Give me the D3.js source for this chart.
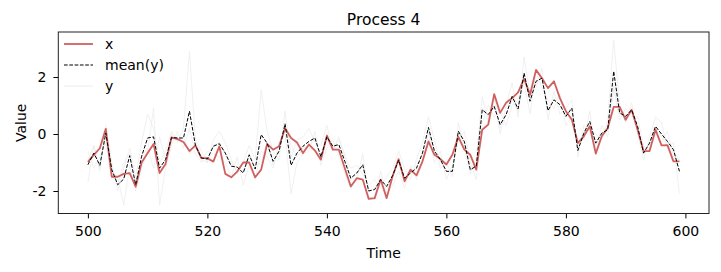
<!DOCTYPE html>
<html>
<head>
<meta charset="utf-8">
<script src="https://cdn.jsdelivr.net/npm/d3@7"></script>
<style>
  body { margin: 0; background: #fff; }
  svg { font-family: "DejaVu Sans", sans-serif; }
</style>
</head>
<body>
<div id="chart"></div>
<script>
// time steps 500..599
var time = d3.range(500, 600);

// x (red line)
var xValues = [
  -0.98, -0.73, -0.5, 0.18, -1.5, -1.5, -1.4, -1.37, -1.85, -1.0,
  -0.67, -0.35, -1.37, -1.05, -0.12, -0.18, -0.28, -0.6, -0.4, -0.85,
  -0.85, -0.97, -0.43, -1.4, -1.52, -1.32, -1.0, -1.0, -1.52, -1.25,
  -0.35, -0.55, -0.43, 0.2, -0.14, -0.3, -0.67, -0.37, -0.58, -0.9,
  -0.06, -0.55, -0.55, -1.2, -1.84, -1.55, -1.6, -2.28, -2.25, -1.6,
  -2.25, -1.48, -0.88, -1.66, -1.25, -1.45, -0.96, -0.26, -0.73, -0.88,
  -1.07, -0.73, -0.1, -0.55, -0.73, -1.25, 0.15, 0.33, 1.4, 0.74,
  1.1, 1.26, 1.46, 1.94, 1.38, 2.25, 1.96, 1.61, 1.85, 1.26,
  0.8, 0.5, -0.32, -0.08, 0.27, -0.69, -0.08, 0.21, 0.95, 0.95,
  0.5, 0.85, 0.15, -0.6, -0.6, 0.15, -0.4, -0.39, -0.96, -0.96
];

// mean(y) (black dashed)
var meanValues = [
  -1.08, -0.67, -1.1, 0.03, -1.25, -1.78, -1.58, -0.76, -1.78, -0.78,
  -0.14, -0.1, -1.2, -0.9, -0.12, -0.14, -0.14, 0.8, -0.4, -0.84,
  -0.88, -0.43, -0.34, -0.67, -1.13, -1.16, -1.37, -0.73, -1.23, -0.02,
  -0.32, -0.96, -0.6, 0.36, -1.1, -0.67, -0.43, -0.26, -0.14, -0.8,
  -0.1, -0.43, -0.37, -0.96, -1.55, -1.37, -1.08, -2.0, -1.95, -1.6,
  -1.84, -1.46, -0.92, -1.55, -1.37, -1.2, -0.67, 0.23, -0.6, -0.9,
  -1.31, -1.31, 0.1, -0.26, -1.25, -1.13, 0.85, 0.68, 0.97, 0.33,
  0.68, 1.32, 0.88, 2.14, 1.15, 1.85, 1.96, 0.82, 1.2, 1.03,
  0.62, 0.91, -0.58, 0.03, 0.44, -0.32, 0.03, 0.15, 2.2, 0.74,
  0.62, 0.85, 0.27, -0.67, -0.32, 0.27, 0.0, -0.26, -0.55, -1.31
];

// y samples (faint grey lines)
var ySample1 = [
  -1.7, -0.4, -1.3, 0.3, -1.0, -2.0, -1.2, -0.5, -1.5, -0.3,
  0.7, 0.2, -1.0, -0.6, 0.1, -0.3, 0.2, 2.9, -0.2, -0.6,
  -1.0, -0.2, 0.1, -0.3, -0.9, -1.4, -1.0, -0.4, -0.9, 1.55,
  0.1, -0.6, -0.9, 0.8, -0.8, -0.2, -0.1, 0.2, -0.3, -0.4,
  0.3, -0.6, -0.1, -0.8, -1.2, -1.1, -1.4, -1.8, -1.6, -1.9,
  -1.5, -1.2, -0.6, -1.2, -1.6, -0.9, -0.3, 0.6, -0.2, -1.2,
  -1.0, -1.5, 0.4, -0.5, -1.4, -0.8, 1.3, 0.4, 1.3, 0.0,
  1.0, 1.8, 0.6, 2.7, 1.4, 1.6, 2.3, 0.5, 1.5, 0.7,
  0.9, 1.2, -0.8, 0.3, 0.1, 0.0, -0.2, 0.5, 3.3, 1.0,
  0.4, 1.1, 0.0, -0.9, -0.1, 0.6, 0.4, -0.5, -0.3, -2.1
];
var ySample2 = [
  -0.6, -1.2, -0.8, -0.3, -1.6, -1.5, -2.5, -1.1, -2.0, -1.2,
  -0.6, 0.9, -2.5, -1.2, -0.4, 0.1, -0.5, 0.2, -0.7, -1.0,
  -0.6, -0.7, -0.8, -1.0, -1.5, -0.8, -1.8, -1.1, -1.6, -0.6,
  -0.8, -1.2, -0.3, 0.0, -2.1, -1.0, -0.7, -0.6, 0.1, -1.1,
  -0.5, -0.2, -0.8, -1.4, -1.9, -1.6, -0.7, -2.2, -2.3, -1.3,
  -2.1, -1.8, -1.3, -1.9, -1.1, -1.6, -1.0, 0.0, -1.0, -0.6,
  -1.6, -1.1, -0.2, 0.1, -1.0, -1.6, 0.4, 1.0, 0.6, 0.8,
  0.3, 1.0, 1.2, 1.8, 0.7, 2.2, 1.6, 1.2, 0.9, 1.4,
  0.3, 0.6, -0.3, -0.2, 0.8, -0.6, 0.3, -0.1, 1.6, 0.5,
  0.9, 0.6, 0.6, -0.4, -0.6, 0.0, -0.3, 0.1, -0.8, -0.9
];
var ySample3 = [
  -0.9, -0.4, -1.2, 0.1, -1.2, -1.8, -1.0, -0.7, -1.8, -0.8,
  -0.5, -1.2, -0.1, -0.9, 0.0, -0.2, -0.1, -0.7, -0.3, -0.9,
  -1.0, -0.4, -0.3, -0.7, -1.0, -1.3, -1.3, -0.7, -1.2, -1.0,
  -0.3, -1.1, -0.6, 0.3, -0.4, -0.8, -0.5, -0.4, -0.2, -0.9,
  0.0, -0.5, -0.2, -0.7, -1.6, -1.4, -1.1, -2.0, -1.9, -1.6,
  -1.9, -1.4, -0.9, -1.6, -1.4, -1.1, -0.7, 0.1, -0.6, -0.9,
  -1.3, -1.3, 0.1, -0.4, -1.3, -1.0, 0.9, 0.6, 1.0, 0.2,
  0.7, 1.2, 0.8, 1.9, 1.3, 1.8, 2.0, 0.8, 1.2, 1.0,
  0.6, 0.9, -0.6, 0.0, 0.4, -0.4, 0.0, 0.1, 1.7, 0.7,
  0.6, 0.8, 0.2, -0.7, -0.3, 0.2, -0.1, -0.4, -0.6, -0.9
];
var ySamples = [ySample1, ySample2, ySample3];

var xTicks = [500, 520, 540, 560, 580, 600];
var yTicks = [-2, 0, 2];
var legendLabels = ['x', 'mean(y)', 'y'];

var width = 721, height = 272;
var margin = {top: 32, right: 12, bottom: 58.5, left: 58.3};

var svg = d3.select('#chart')
  .append('svg')
  .attr('width', width)
  .attr('height', height);

var xScale = d3.scaleLinear()
  .domain([495.05, 603.95])
  .range([margin.left, width - margin.right]);

var yScale = d3.scaleLinear()
  .domain([-2.79, 3.58])
  .range([height - margin.bottom, margin.top]);

var line = d3.line()
  .x((d, i) => xScale(time[i]))
  .y(d => yScale(d));

// y samples
svg.append('g')
  .selectAll('path')
  .data(ySamples)
  .enter()
  .append('path')
  .attr('d', line)
  .style('fill', 'none')
  .style('stroke', '#ececec')
  .style('stroke-width', 0.8);

// x
svg.append('path')
  .attr('d', line(xValues))
  .style('fill', 'none')
  .style('stroke', '#d0605f')
  .style('stroke-width', 1.8)
  .style('stroke-linejoin', 'round');

// mean(y)
svg.append('path')
  .attr('d', line(meanValues))
  .style('fill', 'none')
  .style('stroke', '#000')
  .style('stroke-width', 1)
  .style('stroke-dasharray', '3.7,1.6');

// axes
var xAxis = svg.append('g')
  .attr('transform', `translate(0,${height - margin.bottom})`)
  .call(d3.axisBottom(xScale).tickValues(xTicks).tickSize(4.9).tickPadding(8));

var yAxis = svg.append('g')
  .attr('transform', `translate(${margin.left},0)`)
  .call(d3.axisLeft(yScale).tickValues(yTicks).tickSize(4.9).tickPadding(7)
    .tickFormat(d => d < 0 ? '-' + Math.abs(d) : String(d)));

[xAxis, yAxis].forEach(function(a) {
  a.select('.domain').remove();
  a.selectAll('line').style('stroke', '#000').style('stroke-width', 1);
  a.selectAll('text')
    .style('font-family', '"DejaVu Sans", sans-serif')
    .style('font-size', '14px')
    .style('fill', '#000');
});

// frame
svg.append('rect')
  .attr('x', margin.left)
  .attr('y', margin.top)
  .attr('width', width - margin.left - margin.right)
  .attr('height', height - margin.top - margin.bottom)
  .style('fill', 'none')
  .style('stroke', '#222')
  .style('stroke-width', 1);

// title and labels
svg.append('text')
  .attr('x', (margin.left + width - margin.right) / 2)
  .attr('y', 25)
  .attr('text-anchor', 'middle')
  .style('font-size', '15.5px')
  .text('Process 4');

svg.append('text')
  .attr('x', (margin.left + width - margin.right) / 2)
  .attr('y', 258)
  .attr('text-anchor', 'middle')
  .style('font-size', '14px')
  .text('Time');

svg.append('text')
  .attr('transform', `translate(25.5,${(margin.top + height - margin.bottom) / 2}) rotate(-90)`)
  .attr('text-anchor', 'middle')
  .style('font-size', '14px')
  .text('Value');

// legend
var legendStyles = [
  {stroke: '#d0605f', width: 1.8, dash: null},
  {stroke: '#000', width: 1, dash: '3.7,1.6'},
  {stroke: '#ececec', width: 1, dash: null}
];

var legend = svg.append('g')
  .selectAll('g')
  .data(legendLabels)
  .enter()
  .append('g')
  .attr('transform', (d, i) => `translate(64,${44 + i * 21})`);

legend.append('line')
  .attr('x1', 0)
  .attr('x2', 29)
  .style('stroke', (d, i) => legendStyles[i].stroke)
  .style('stroke-width', (d, i) => legendStyles[i].width)
  .style('stroke-dasharray', (d, i) => legendStyles[i].dash);

legend.append('text')
  .attr('x', 41)
  .attr('dy', '0.35em')
  .style('font-size', '14px')
  .text(d => d);
</script>
</body>
</html>
